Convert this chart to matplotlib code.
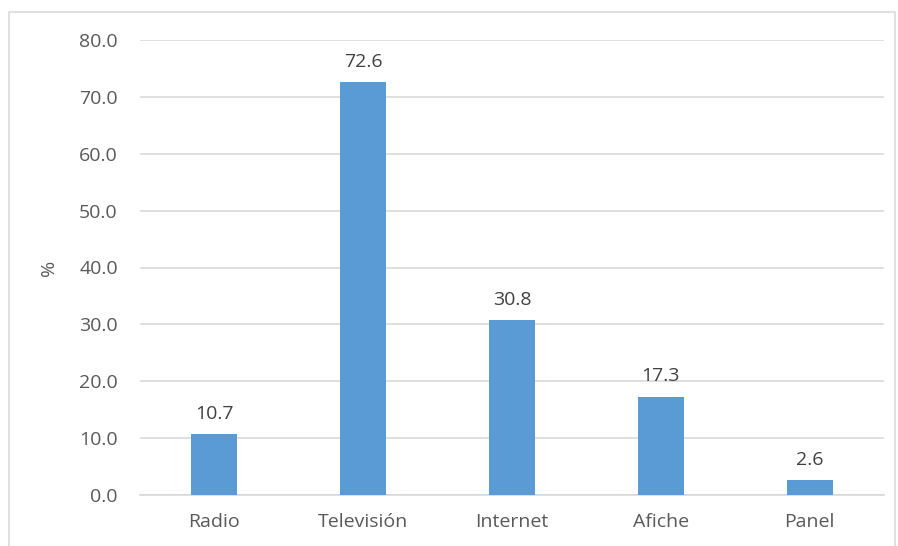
import matplotlib
matplotlib.use('Agg')
import matplotlib.pyplot as plt
from matplotlib.patches import Rectangle

categories = ['Radio', 'Televisión', 'Internet', 'Afiche', 'Panel']
values = [10.7, 72.6, 30.8, 17.3, 2.6]
y_ticks = [0, 10, 20, 30, 40, 50, 60, 70, 80]

bar_color = '#5B9BD5'
text_color = '#595959'
grid_color = '#D9D9D9'

plt.rcParams['font.family'] = ['Open Sans', 'DejaVu Sans']

fig = plt.figure(figsize=(8.98, 5.46), dpi=100)
ax = fig.add_axes([140 / 898, 1 - 495 / 546, 744 / 898, 455 / 546])

x = range(len(categories))
ax.bar(x, values, width=0.31, color=bar_color, zorder=3)
for xi, v in zip(x, values):
    ax.annotate(f'{v:.1f}', (xi, v), xytext=(0, 8), textcoords='offset points',
                ha='center', va='bottom', fontsize=14, color='#404040')

ax.set_xlim(-0.5, len(categories) - 0.5)
ax.set_ylim(0, 80)
ax.set_yticks(y_ticks)
ax.set_yticklabels([f'{t:.1f}' for t in y_ticks])
ax.set_xticks(list(x))
ax.set_xticklabels(categories)
ax.tick_params(axis='both', length=0, labelsize=14, labelcolor=text_color)
ax.tick_params(axis='y', pad=16)
ax.tick_params(axis='x', pad=13)
ax.yaxis.grid(True, color=grid_color, linewidth=1.2, zorder=0)
for side in ['top', 'right', 'left']:
    ax.spines[side].set_visible(False)
ax.spines['bottom'].set_color(grid_color)
ax.spines['bottom'].set_linewidth(1.2)

ax.set_ylabel('%', fontsize=14, color=text_color, labelpad=15)

# chart area frame, bottom edge runs past the canvas
fig.patches.append(Rectangle((9 / 898, -0.05), 886 / 898, 1.05 - 12 / 546,
                             transform=fig.transFigure, fill=False,
                             edgecolor='#D9D9D9', linewidth=1.2))

fig.savefig('out.png', dpi=100)
